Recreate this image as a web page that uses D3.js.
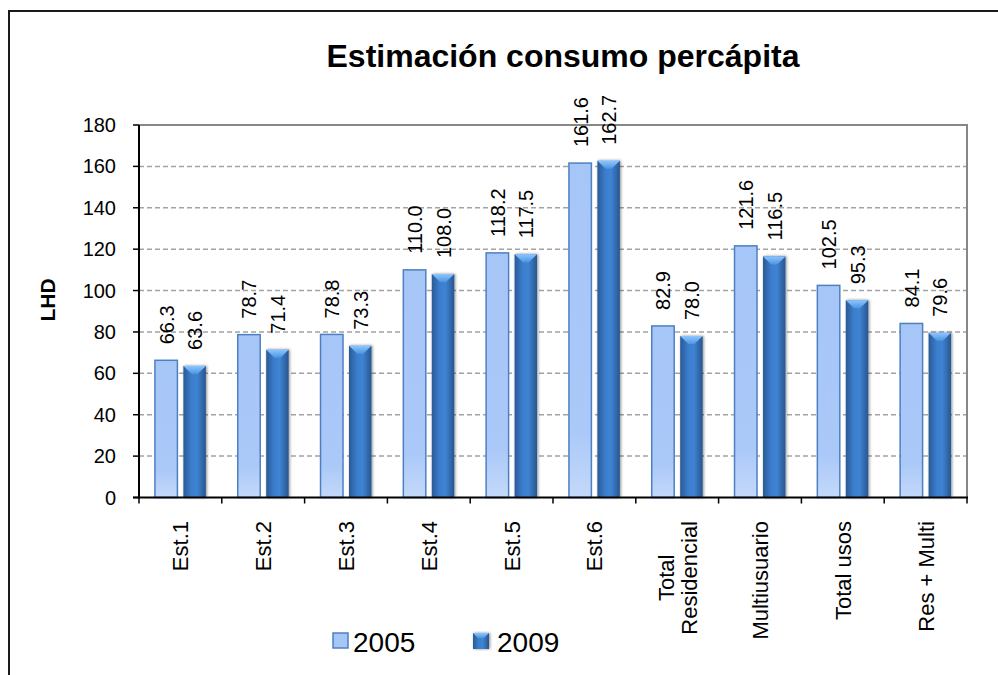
<!DOCTYPE html>
<html><head><meta charset="utf-8">
<script src="https://cdn.jsdelivr.net/npm/d3@7"></script>
<style>body{margin:0;background:#fff}svg{display:block;font-family:"Liberation Sans",Arial,sans-serif}</style>
</head><body>
<svg id="c" width="998" height="675"></svg>
<script>
const categories = ["Est.1","Est.2","Est.3","Est.4","Est.5","Est.6","Total\nResidencial","Multiusuario","Total usos","Res + Multi"];
const seriesNames = ["2005","2009"];
const values2005 = [66.3,78.7,78.8,110.0,118.2,161.6,82.9,121.6,102.5,84.1];
const values2009 = [63.6,71.4,73.3,108.0,117.5,162.7,78.0,116.5,95.3,79.6];
const yTicks = [0,20,40,60,80,100,120,140,160,180];
const title = "Estimación consumo percápita";
const yTitle = "LHD";

const svg = d3.select("#c");
const L=139, R=967, T=125, B=497.5;
const defs = svg.append("defs");
const g1 = defs.append("linearGradient").attr("id","dark").attr("x1",0).attr("x2",1).attr("y1",0).attr("y2",0);
[[0,"#2a5a95"],[0.35,"#3b7dcc"],[0.6,"#3f84d4"],[1,"#28568f"]].forEach(s=>g1.append("stop").attr("offset",s[0]).attr("stop-color",s[1]));
const g2 = defs.append("linearGradient").attr("id","cap").attr("x1",0).attr("x2",0).attr("y1",0).attr("y2",1);
[[0,"#8cc6ff"],[1,"#4f94e0"]].forEach(s=>g2.append("stop").attr("offset",s[0]).attr("stop-color",s[1]));
const g3 = defs.append("linearGradient").attr("id","light").attr("x1",0).attr("x2",0).attr("y1",0).attr("y2",1);
[[0,"#a7c6f8"],[0.8,"#aac8f8"],[1,"#c4d9fa"]].forEach(s=>g3.append("stop").attr("offset",s[0]).attr("stop-color",s[1]));
const f = defs.append("filter").attr("id","sh").attr("x","-30%").attr("y","-10%").attr("width","160%").attr("height","120%");
f.append("feGaussianBlur").attr("in","SourceAlpha").attr("stdDeviation",1.5).attr("result","b");
f.append("feOffset").attr("in","b").attr("dx",0.5).attr("dy",0).attr("result","o");
f.append("feComponentTransfer").attr("in","o").attr("result","o2").append("feFuncA").attr("type","linear").attr("slope",0.45);
const fm = f.append("feMerge"); fm.append("feMergeNode").attr("in","o2"); fm.append("feMergeNode").attr("in","SourceGraphic");

// outer border
svg.append("rect").attr("x",9).attr("y",11).attr("width",1100).attr("height",800).attr("fill","none").attr("stroke","#1a1a1a").attr("stroke-width",2);

const x = d3.scaleBand().domain(categories).range([L,R]).paddingInner(0).paddingOuter(0);
const x1 = d3.scaleBand().domain(seriesNames).range([0,x.bandwidth()]).paddingInner(0.21).paddingOuter(0.56);
const y = d3.scaleLinear().domain([0,180]).range([B,T]);

// gridlines
svg.append("g").selectAll("line").data(yTicks.filter(v=>v>0&&v<180)).join("line")
  .attr("x1",L).attr("x2",R).attr("y1",d=>y(d)).attr("y2",d=>y(d))
  .attr("stroke","#a3a3a3").attr("stroke-width",1.5).attr("stroke-dasharray","5,3");
// plot outline top/right
svg.append("path").attr("d",`M${L},${T}H${R}V${B}`).attr("fill","none").attr("stroke","#878787").attr("stroke-width",2);

const data = categories.map((c,i)=>({c, v:[{s:"2005",v:values2005[i]},{s:"2009",v:values2009[i]}]}));
const grp = svg.append("g").selectAll("g").data(data).join("g").attr("transform",d=>`translate(${x(d.c)},0)`);
const w = x1.bandwidth();
// 2005 bars
grp.append("rect").attr("x",x1("2005")).attr("y",d=>y(d.v[0].v)).attr("width",w).attr("height",d=>B-y(d.v[0].v))
  .attr("fill","url(#light)").attr("stroke","#4d80c2").attr("stroke-width",1.5);
// 2009 bars
const b9 = grp.append("g").attr("filter","url(#sh)");
b9.append("rect").attr("x",x1("2009")).attr("y",d=>y(d.v[1].v)).attr("width",w).attr("height",d=>B-y(d.v[1].v))
  .attr("fill","url(#dark)");
b9.append("path").attr("d",d=>{const xx=x1("2009"), t=y(d.v[1].v);return `M${xx},${t}H${xx+w}L${xx+w/2+3},${t+8}H${xx+w/2-3}Z`;})
  .attr("fill","url(#cap)");
// value labels
seriesNames.forEach((s,si)=>{
  grp.append("text").attr("transform",d=>`translate(${x1(s)+w/2+7.5},${y(d.v[si].v)-16}) rotate(-90)`)
    .attr("font-size",20).attr("fill","#000").text(d=>d.v[si].v.toFixed(1));
});

// axes
svg.append("line").attr("x1",L).attr("x2",L).attr("y1",T).attr("y2",B+1).attr("stroke","#000").attr("stroke-width",2);
svg.append("line").attr("x1",L-6).attr("x2",R+1).attr("y1",B).attr("y2",B).attr("stroke","#000").attr("stroke-width",2);
svg.append("g").selectAll("line").data(yTicks).join("line").attr("x1",L-6).attr("x2",L).attr("y1",d=>y(d)).attr("y2",d=>y(d)).attr("stroke","#000").attr("stroke-width",1.5);
svg.append("g").selectAll("text").data(yTicks).join("text").attr("x",116).attr("y",d=>y(d)+7).attr("text-anchor","end").attr("font-size",20).text(d=>d);
svg.append("g").selectAll("line").data(d3.range(categories.length+1)).join("line")
  .attr("x1",i=>L+i*x.step()).attr("x2",i=>L+i*x.step()).attr("y1",B).attr("y2",B+6).attr("stroke","#000").attr("stroke-width",1.5);

// x category labels
const xl = svg.append("g");
categories.forEach(c=>{
  const lines = c.split("\n");
  const cx = x(c)+x.bandwidth()/2;
  if(lines.length===1){
    xl.append("text").attr("transform",`translate(${cx+8},521) rotate(-90)`).attr("text-anchor","end").attr("font-size",22).text(c);
  } else {
    const tmp = lines.map(t=>xl.append("text").attr("font-size",22).text(t));
    const maxLen = d3.max(tmp,t=>t.node().getComputedTextLength());
    tmp.forEach(t=>t.remove());
    const mid = 521+maxLen/2, lh=23;
    lines.forEach((t,i)=>{
      const off = (i-(lines.length-1)/2)*lh;
      xl.append("text").attr("transform",`translate(${cx+8+off},${mid}) rotate(-90)`).attr("text-anchor","middle").attr("font-size",22).text(t);
    });
  }
});

// titles
svg.append("text").attr("x",563).attr("y",67).attr("text-anchor","middle").attr("font-size",32).attr("font-weight","bold").text(title);
svg.append("text").attr("transform","translate(55,300) rotate(-90)").attr("text-anchor","middle").attr("font-size",21).attr("font-weight","bold").text(yTitle);

// legend
const lg = svg.append("g");
lg.append("rect").attr("x",333).attr("y",633).attr("width",15).attr("height",15).attr("fill","#a7c6f8").attr("stroke","#4d80c2").attr("stroke-width",1.5);
lg.append("text").attr("x",353).attr("y",652).attr("font-size",28).text(seriesNames[0]);
const l9 = lg.append("g").attr("filter","url(#sh)");
l9.append("rect").attr("x",473).attr("y",633).attr("width",16).attr("height",16).attr("fill","url(#dark)");
l9.append("path").attr("d","M473,633H489L484,638H478Z").attr("fill","url(#cap)");
lg.append("text").attr("x",497).attr("y",652).attr("font-size",28).text(seriesNames[1]);
</script>
</body></html>
